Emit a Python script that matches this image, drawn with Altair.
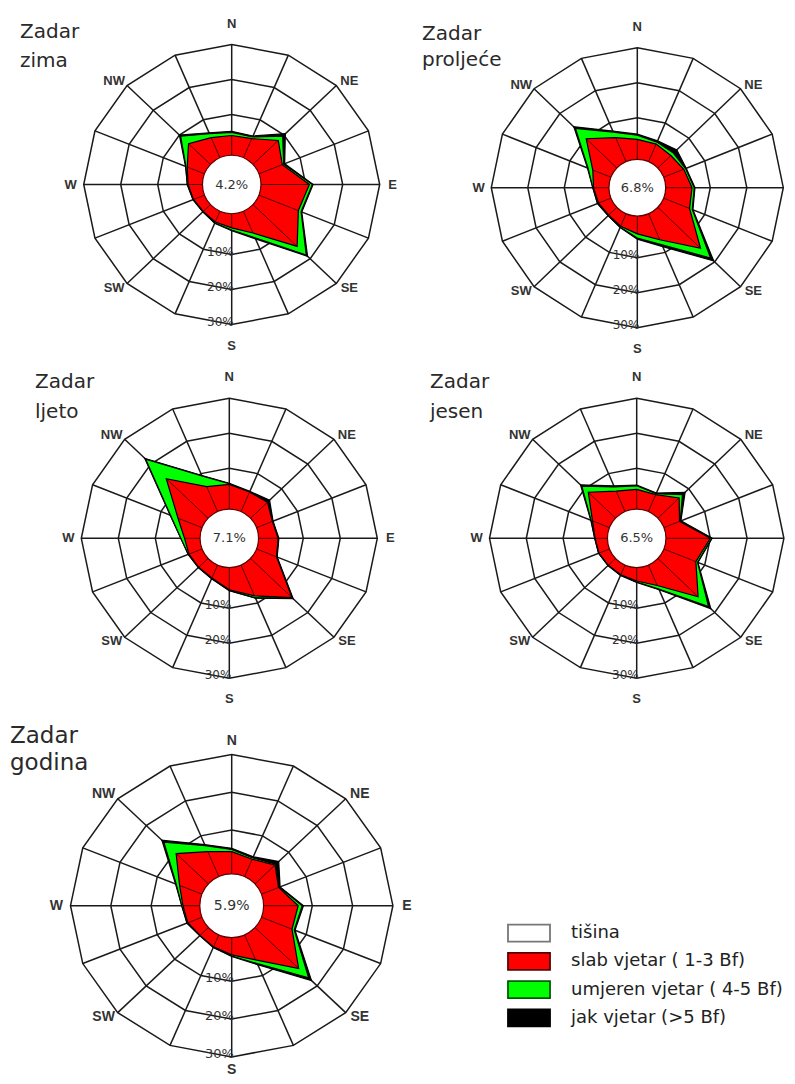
import math
import altair as alt
import pandas as pd

# ---------------- data ----------------
DIRS = ["N", "NNE", "NE", "ENE", "E", "ESE", "SE", "SSE",
        "S", "SSW", "SW", "WSW", "W", "WNW", "NW", "NNW"]
MAJOR = ["N", "NE", "E", "SE", "S", "SW", "W", "NW"]
RING_LEVELS = [0, 10, 20, 30]
RING_TICKS = [10, 20, 30]
CATEGORIES = ["tišina", "slab vjetar ( 1-3 Bf)", "umjeren vjetar ( 4-5 Bf)", "jak vjetar (>5 Bf)"]

STATION = "Zadar"
SEASONS = ["zima", "proljeće", "ljeto", "jesen", "godina"]
CALM = [4.2, 6.8, 7.1, 6.5, 5.9]

#            N    NNE  NE   ENE  E     ESE  SE    SSE  S    SSW  SW   WSW  W    WNW  NW    NNW
zima_slab = [4.0, 4.2, 7.8, 4.8, 11.0, 9.5, 15.0, 5.0, 2.4, 1.6, 0.9, 1.2, 1.8, 3.0, 6.5, 4.5]
zima_umj = [0.9, 0.5, 1.7, 0.4, 0.8, 0.8, 3.5, 1.5, 0.6, 0.3, 0.1, 0.1, 0.2, 0.4, 3.0, 1.2]
zima_jak = [0.3, 0.3, 1.0, 0.3, 0.2, 0.2, 0.5, 0.3, 0.2, 0.1, 0.0, 0.0, 0.0, 0.1, 0.5, 0.3]

proljece_slab = [3.8, 3.5, 3.0, 3.8, 5.0, 5.5, 14.5, 6.1, 3.2, 1.9, 1.1, 1.5, 2.0, 3.2, 9.8, 5.5]
proljece_umj = [1.2, 0.6, 1.0, 0.5, 0.6, 0.8, 3.9, 1.6, 1.2, 0.3, 0.2, 0.3, 0.2, 1.4, 4.2, 1.7]
proljece_jak = [0.3, 0.4, 1.3, 0.2, 0.2, 0.2, 1.2, 0.5, 0.3, 0.1, 0.0, 0.0, 0.0, 0.2, 0.6, 0.3]

ljeto_slab = [5.4, 4.3, 4.6, 2.6, 3.2, 3.8, 14.0, 7.8, 4.7, 2.3, 1.7, 1.8, 2.1, 5.0, 14.1, 6.0]
ljeto_umj = [0.2, 0.1, 0.2, 0.1, 0.1, 0.1, 0.1, 0.6, 0.2, 0.1, 0.1, 0.2, 1.0, 2.2, 7.9, 3.3]
ljeto_jak = [0.1, 0.1, 0.6, 0.1, 0.1, 0.1, 0.3, 0.1, 0.1, 0.1, 0.0, 0.0, 0.0, 0.1, 0.3, 0.1]

jesen_slab = [4.0, 3.5, 6.3, 2.6, 10.0, 7.4, 13.6, 4.6, 2.2, 1.3, 0.9, 1.1, 1.3, 3.0, 8.6, 4.6]
jesen_umj = [1.0, 0.3, 1.3, 0.2, 0.4, 0.5, 4.0, 1.1, 0.3, 0.1, 0.1, 0.1, 0.1, 0.4, 2.5, 1.3]
jesen_jak = [0.2, 0.2, 1.0, 0.2, 0.1, 0.1, 0.9, 0.2, 0.1, 0.1, 0.0, 0.0, 0.0, 0.1, 0.5, 0.3]

godina_slab = [4.3, 3.3, 5.2, 2.6, 6.5, 6.2, 13.5, 5.5, 3.0, 1.8, 1.1, 1.8, 2.1, 4.0, 9.5, 5.5]
godina_umj = [0.6, 0.4, 0.3, 0.2, 1.0, 0.6, 3.5, 1.1, 0.3, 0.1, 0.1, 0.2, 0.3, 0.9, 4.3, 1.7]
godina_jak = [0.3, 0.3, 1.0, 0.2, 0.3, 0.2, 1.0, 0.3, 0.1, 0.1, 0.0, 0.0, 0.0, 0.2, 0.7, 0.3]

# ---------------- styles ----------------
FILL_COLORS = ["#ffffff", "#ff0000", "#00ff00", "#000000"]
EDGE_COLORS = ["#777777", "#5a0000", "#005a00", "#000000"]
GRID = "#1a1a1a"
TEXT = "#333333"
FONT = "DejaVu Sans"
BASE = 10     # radius (in % units) of the 0 % ring around the calm circle
OUTER = 40    # radius of the outermost (30 %) ring


def rose(season, slab, umj, jak, calm, W, H, cx, cy, kx, ky,
         tx, ty, tsize, tlh, calm_r, ns_off=6.0, clip_labels=False, k=1.0):
    xs = alt.Scale(domain=[-cx / kx, (W - cx) / kx], nice=False, zero=False)
    ys = alt.Scale(domain=[-(H - cy) / ky, cy / ky], nice=False, zero=False)

    def X(f):
        return alt.X(f, type="quantitative", scale=xs, axis=None)

    def Y(f):
        return alt.Y(f, type="quantitative", scale=ys, axis=None)

    ang = "datum.idx * PI / 8"

    ring_df = pd.DataFrame([{"ring": v, "idx": i} for v in RING_LEVELS for i in range(len(DIRS))])
    rings = alt.Chart(ring_df).transform_calculate(a=ang).transform_calculate(
        r=f"{BASE} + datum.ring").transform_calculate(
        x="datum.r * sin(datum.a)", y="datum.r * cos(datum.a)").mark_line(
        interpolate="linear-closed", stroke=GRID, strokeWidth=1.5).encode(
        x=X("x"), y=Y("y"), detail="ring:N", order="idx:Q")

    spoke_df = pd.DataFrame({"idx": list(range(len(DIRS)))})
    spokes = alt.Chart(spoke_df).transform_calculate(a=ang, z="0").transform_calculate(
        x=f"{OUTER} * sin(datum.a)", y=f"{OUTER} * cos(datum.a)").mark_rule(
        stroke=GRID, strokeWidth=1.5).encode(x=X("z"), y=Y("z"), x2="x:Q", y2="y:Q")

    rows = []
    for i, d in enumerate(DIRS):
        rows.append({"idx": i, "dir": d, "band": "jak", "cum": slab[i] + umj[i] + jak[i]})
        rows.append({"idx": i, "dir": d, "band": "umjeren", "cum": slab[i] + umj[i]})
        rows.append({"idx": i, "dir": d, "band": "slab", "cum": slab[i]})
    poly_df = pd.DataFrame(rows)

    def poly(band, color):
        return alt.Chart(poly_df).transform_filter(alt.datum.band == band).transform_calculate(
            a=ang).transform_calculate(r=f"{BASE} + datum.cum").transform_calculate(
            x="datum.r * sin(datum.a)", y="datum.r * cos(datum.a)").mark_line(
            interpolate="linear-closed", fill=color, stroke="#000000", strokeWidth=1.2,
            strokeJoin="miter").encode(x=X("x"), y=Y("y"), order="idx:Q")

    fans = alt.Chart(poly_df).transform_filter(alt.datum.band == "slab").transform_calculate(
        a=ang, z="0").transform_calculate(r=f"{BASE} + datum.cum").transform_calculate(
        x="datum.r * sin(datum.a)", y="datum.r * cos(datum.a)").mark_rule(
        stroke="#3a0000", strokeWidth=0.9).encode(x=X("z"), y=Y("z"), x2="x:Q", y2="y:Q")

    calm_df = pd.DataFrame({"calm": [calm]})
    calm_circle = alt.Chart(calm_df).transform_calculate(z="0").mark_circle(
        size=math.pi * calm_r ** 2, fill="#ffffff", stroke="#5a0000", strokeWidth=1.2,
        opacity=1).encode(x=X("z"), y=Y("z"))
    calm_text = alt.Chart(calm_df).transform_calculate(
        z="0", lbl="format(datum.calm, '.1f') + '%'").mark_text(
        font=FONT, fontSize=13 * k, color=TEXT, align="center", baseline="middle").encode(
        x=X("z"), y=Y("z"), text="lbl:N")

    tick_df = pd.DataFrame({"tick": RING_TICKS})
    tick_text = alt.Chart(tick_df).transform_calculate(
        z="0", y=f"-({BASE} + datum.tick)", lbl="datum.tick + '%'").mark_text(
        font=FONT, fontSize=12 * k, color=TEXT, align="right", baseline="alphabetic",
        dx=2, dy=1).encode(x=X("z"), y=Y("y"), text="lbl:N")

    lab_df = pd.DataFrame({"lab": MAJOR, "idx": [DIRS.index(m) for m in MAJOR]})
    labels = alt.Chart(lab_df).transform_calculate(a=ang).transform_calculate(
        s="sin(datum.a)", c="cos(datum.a)").transform_calculate(
        x=f"{OUTER} * datum.s + (datum.s > 0.01 ? 3.5 : (datum.s < -0.01 ? -3.5 : 0))",
        y=(f"{OUTER} * datum.c + (datum.c > 0.9 ? {ns_off} : (datum.c < -0.9 ? -{ns_off} : "
           "(datum.c > 0.01 ? 1.2 : (datum.c < -0.01 ? -1.2 : 0))))")).mark_text(
        font="Liberation Sans", fontWeight="bold", fontSize=13 * k, color=TEXT,
        align="center", baseline="middle", clip=clip_labels).encode(
        x=X("x"), y=Y("y"), text="lab:N")

    title = alt.Chart(pd.DataFrame({"station": [STATION]})).mark_text(
        text=[STATION, season], font=FONT, fontSize=tsize, lineHeight=tlh, color="#2a2a2a",
        align="left", baseline="alphabetic").encode(x=alt.value(tx), y=alt.value(ty))

    return alt.layer(rings, spokes, poly("jak", "#000000"), poly("umjeren", "#00ff00"),
                     poly("slab", "#ff0000"), fans, calm_circle, calm_text, tick_text,
                     labels, title).properties(width=W, height=H)


r1 = rose(SEASONS[0], zima_slab, zima_umj, zima_jak, CALM[0],
          405, 353, 223.7, 176.5, 3.7, 3.5, 12, 30, 20, 29, 33)
r2 = rose(SEASONS[1], proljece_slab, proljece_umj, proljece_jak, CALM[1],
          374, 353, 224.3, 179.7, 3.65, 3.5, 9, 32, 20, 26, 32, clip_labels=True)
r3 = rose(SEASONS[2], ljeto_slab, ljeto_umj, ljeto_jak, CALM[2],
          405, 353, 221.3, 177.3, 3.7, 3.5, 27, 27, 20, 30, 33)
r4 = rose(SEASONS[3], jesen_slab, jesen_umj, jesen_jak, CALM[3],
          374, 353, 223.7, 177.3, 3.68, 3.5, 17, 27, 20, 30, 33, clip_labels=True)
r5 = rose(SEASONS[4], godina_slab, godina_umj, godina_jak, CALM[4],
          405, 362, 223.7, 191.7, 4.03, 3.78, 2, 29, 23, 27, 36,
          ns_off=3.5, clip_labels=True, k=1.08)

leg_df = pd.DataFrame({"cat": CATEGORIES})
leg_y = alt.Y("cat:N", sort=CATEGORIES, axis=None,
              scale=alt.Scale(domain=CATEGORIES, range=[205, 318],
                              paddingInner=0.4, paddingOuter=0.2))
leg_boxes = alt.Chart(leg_df).mark_rect(strokeWidth=1.8).encode(
    y=leg_y, x=alt.value(95), x2=alt.value(137),
    fill=alt.Fill("cat:N", scale=alt.Scale(domain=CATEGORIES, range=FILL_COLORS), legend=None),
    stroke=alt.Stroke("cat:N", scale=alt.Scale(domain=CATEGORIES, range=EDGE_COLORS), legend=None))
leg_text = alt.Chart(leg_df).mark_text(
    font=FONT, fontSize=18, color="#222222", align="left", baseline="middle").encode(
    y=leg_y, x=alt.value(158), text="cat:N")
legend = alt.layer(leg_boxes, leg_text).properties(width=374, height=362)

chart = alt.concat(r1, r2, r3, r4, r5, legend, columns=2, spacing=0, bounds="flush").properties(
    padding=0).configure_view(stroke=None)

chart.save("out.html", embed_options={"renderer": "svg", "actions": False})
